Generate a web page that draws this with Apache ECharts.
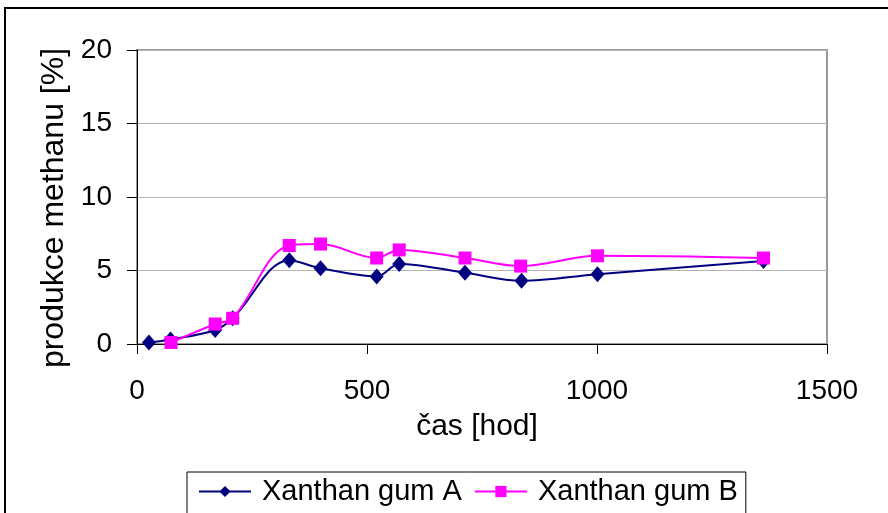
<!DOCTYPE html>
<html>
<head>
<meta charset="utf-8">
<script src="https://cdn.jsdelivr.net/npm/echarts@6/dist/echarts.min.js"></script>
<style>
html,body{margin:0;padding:0;background:#fff;}
#chart{width:888px;height:513px;}
</style>
</head>
<body>
<div id="chart"></div>
<script>
const xA = [26, 73, 170, 208, 331, 399, 521, 570, 713, 836, 1001, 1362];
const yA = [0.1, 0.3, 0.95, 1.75, 5.7, 5.15, 4.6, 5.45, 4.85, 4.3, 4.75, 5.65];
const xB = [74, 170, 208, 331, 399, 521, 570, 713, 834, 1001, 1362];
const yB = [0.1, 1.36, 1.75, 6.7, 6.8, 5.85, 6.4, 5.85, 5.3, 6.0, 5.85];
const yTicks = [0, 5, 10, 15, 20];
const xTicks = [0, 500, 1000, 1500];
const nameA = 'Xanthan gum A';
const nameB = 'Xanthan gum B';
const xName = 'čas [hod]';
const yName = 'produkce methanu [%]';

const font = 'Arial, "Liberation Sans", sans-serif';
const chart = echarts.init(document.getElementById('chart'), null, {renderer: 'canvas'});
chart.setOption({
  animation: false,
  backgroundColor: '#fff',
  graphic: [{
    type: 'polyline', z: -10,
    shape: {points: [[5, 1000], [5, 8], [2000, 8]]},
    style: {fill: 'none', stroke: '#000', lineWidth: 2}
  }],
  grid: {
    left: 137, top: 50, width: 690, height: 294,
    show: true, borderColor: '#9a9a9a', borderWidth: 2, backgroundColor: 'transparent'
  },
  legend: {
    left: 187, top: 472,
    padding: [5, 8, 20, 11],
    itemGap: 12,
    itemWidth: 52, itemHeight: 14,
    borderColor: '#000', borderWidth: 1,
    textStyle: {fontFamily: font, fontSize: 29, color: '#000', padding: [0, 0, 0, 6]},
    data: [nameA, nameB]
  },
  xAxis: {
    type: 'value', min: xTicks[0], max: xTicks[xTicks.length - 1], interval: 500,
    name: xName, nameLocation: 'middle', nameGap: 68,
    nameTextStyle: {fontFamily: font, fontSize: 30, color: '#000', padding: [0, 10, 0, 0]},
    axisLine: {show: true, onZero: false, lineStyle: {color: '#000', width: 1}},
    axisTick: {show: true, inside: false, length: 10, lineStyle: {color: '#000'}},
    axisLabel: {fontFamily: font, fontSize: 28, color: '#000', margin: 33, formatter: v => String(v)},
    splitLine: {show: false}
  },
  yAxis: {
    type: 'value', min: yTicks[0], max: yTicks[yTicks.length - 1], interval: 5,
    name: yName, nameLocation: 'middle', nameGap: 58,
    nameTextStyle: {fontFamily: font, fontSize: 32, color: '#000', padding: [0, 22, 0, 0]},
    axisLine: {show: true, onZero: false, lineStyle: {color: '#000', width: 1}},
    axisTick: {show: true, inside: false, length: 10, lineStyle: {color: '#000'}},
    axisLabel: {fontFamily: font, fontSize: 28, color: '#000', margin: 25, formatter: v => String(v)},
    splitLine: {show: true, lineStyle: {color: '#b4b4b4', width: 1}}
  },
  series: [
    {
      name: nameA, type: 'line', smooth: 0.35,
      data: xA.map((x, i) => [x, yA[i]]),
      symbol: 'diamond', symbolSize: [14, 16],
      itemStyle: {color: '#000080'},
      lineStyle: {color: '#000080', width: 2},
      z: 2
    },
    {
      name: nameB, type: 'line', smooth: 0.35,
      data: xB.map((x, i) => [x, yB[i]]),
      symbol: 'rect', symbolSize: 13,
      itemStyle: {color: '#ff00ff'},
      lineStyle: {color: '#ff00ff', width: 2},
      z: 3
    }
  ]
});
</script>
</body>
</html>
